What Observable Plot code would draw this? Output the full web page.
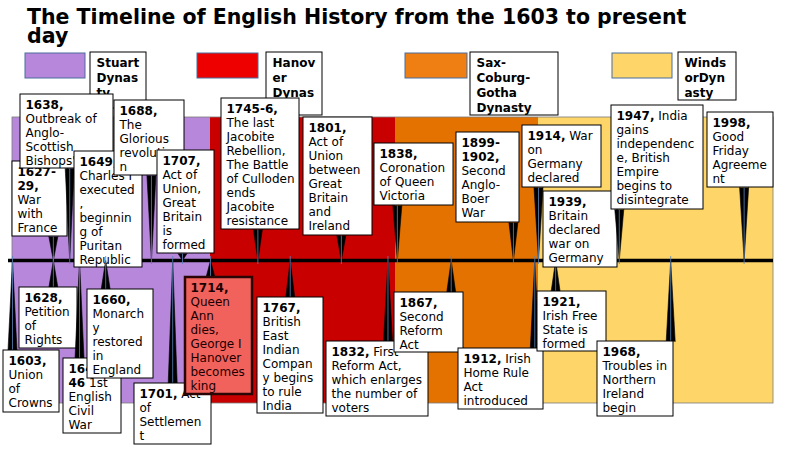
<!DOCTYPE html>
<html><head><meta charset="utf-8">
<script src="https://cdn.jsdelivr.net/npm/d3@7"></script>
<script src="https://cdn.jsdelivr.net/npm/@observablehq/plot@0.6"></script>
<style>
body{margin:0;background:#fff;width:800px;height:449px;overflow:hidden;font-family:"DejaVu Sans",sans-serif;}
#title{position:relative;height:50px;}
#title h1{position:absolute;left:27px;top:8px;margin:0;font-size:20.5px;line-height:19px;font-weight:bold;font-family:"DejaVu Sans";color:#000;white-space:nowrap;}
#chart svg{display:block;}
</style></head><body>
<div id="title"><h1>The Timeline of English History from the 1603 to present<br>day</h1></div>
<div id="chart"></div>
<script>
// ---------------- data ----------------
const dynastyNames = ["Stuart Dynasty", "Hanover Dynasty", "Sax-Coburg-Gotha Dynasty", "WindsorDynasty"];
const dynastyStart = [1603, 1714, 1837, 1914];
const dynastyEnd   = [1714, 1837, 1914, 2010];
const dynastyLegendText = ["Stuart\nDynas\nty", "Hanov\ner\nDynas", "Sax-\nCoburg-\nGotha\nDynasty", "Winds\norDyn\nasty"];

const eventStart = [1603, 1627, 1628, 1638, 1642, 1649, 1660, 1688, 1701, 1707, 1714, 1745, 1767, 1801, 1832, 1838, 1867, 1899, 1912, 1914, 1921, 1939, 1947, 1968, 1998];
const eventEnd   = [1603, 1629, 1628, 1638, 1646, 1649, 1660, 1688, 1701, 1707, 1714, 1746, 1767, 1801, 1832, 1838, 1867, 1902, 1912, 1914, 1921, 1939, 1947, 1968, 1998];
const eventLabels = [
  "**1603,**\nUnion\nof\nCrowns",
  "**1627-\n29,**\nWar\nwith\nFrance",
  "**1628,**\nPetition\nof\nRights",
  "**1638,**\nOutbreak of\nAnglo-\nScottish\nBishops'",
  "**1642-\n46** 1st\nEnglish\nCivil\nWar",
  "**1649,**\nCharles I\nexecuted\n,\nbeginnin\ng of\nPuritan\nRepublic",
  "**1660,**\nMonarch\ny\nrestored\nin\nEngland",
  "**1688,**\nThe\nGlorious\nrevolutio\nn",
  "**1701,** Act\nof\nSettlemen\nt",
  "**1707,**\nAct of\nUnion,\nGreat\nBritain\nis\nformed",
  "**1714,**\nQueen\nAnn\ndies,\nGeorge I\nHanover\nbecomes\nking",
  "**1745-6,**\nThe last\nJacobite\nRebellion,\nThe Battle\nof Culloden\nends\nJacobite\nresistance",
  "**1767,**\nBritish\nEast\nIndian\nCompan\ny begins\nto rule\nIndia",
  "**1801,**\nAct of\nUnion\nbetween\nGreat\nBritain\nand\nIreland",
  "**1832,** First\nReform Act,\nwhich enlarges\nthe number of\nvoters",
  "**1838,**\nCoronation\nof Queen\nVictoria",
  "**1867,**\nSecond\nReform\nAct",
  "**1899-\n1902,**\nSecond\nAnglo-\nBoer\nWar",
  "**1912,** Irish\nHome Rule\nAct\nintroduced",
  "**1914,** War\non\nGermany\ndeclared",
  "**1921,**\nIrish Free\nState is\nformed",
  "**1939,**\nBritain\ndeclared\nwar on\nGermany",
  "**1947,** India\ngains\nindependenc\ne, British\nEmpire\nbegins to\ndisintegrate",
  "**1968,**\nTroubles in\nNorthern\nIreland\nbegin",
  "**1998,**\nGood\nFriday\nAgreeme\nnt"
];
const highlightedEvents = [1714];

// ---------------- styles ----------------
const dynastyColors = ["#b687da", "#c90000", "#e47200", "#fed568"];
const legendColors  = ["#b687da", "#ee0000", "#ef7f12", "#fed568"];
const highlightFill = "#f2625c";

// ---------------- layout (page pixels) ----------------
const SVG_TOP = 50, SVG_H = 399, TL = 260;          // timeline page y
const scaleYears = [1603, 1707, 1714, 1837, 1914, 2010];  // the drawing is not to scale: anchor years
const scalePx    = [12, 182, 210, 395, 538, 773];
const bandHalf = 143;
const eventBoxes = [
  [3,350,59,412],[12,161,67,236],[19,287,77,348],[20,94,113,168],[63,358,121,433],
  [74,151,142,267],[87,289,153,378],[114,100,184,175],[134,383,211,444],[157,150,214,253],
  [185,277,252,394],[221,98,299,229],[257,297,323,413],[303,117,372,235],[326,341,428,416],
  [374,143,453,205],[394,292,463,352],[456,132,519,222],[458,348,543,409],[522,125,601,187],
  [537,291,606,351],[543,191,617,267],[611,105,703,209],[597,341,673,416],[707,112,773,187]
];
const legendSwatches = [[25,53,85,78],[197,53,258,78],[405,53,467,78],[612,53,672,78]];
const legendBoxes = [[90,52,146,108],[266,52,322,115],[470,52,558,115],[678,52,736,100]];

// ---------------- helpers ----------------
const FONT = "DejaVu Sans", FS = 12, LINE = 14, LLINE = 15;
const X = d3.scaleLinear().domain(scaleYears).range(scalePx);
const xv = px => X.invert(px);
const yv = py => TL - py;
const ctx = document.createElement("canvas").getContext("2d");
function tw(s, bold) { ctx.font = `${bold ? "bold " : ""}${FS}px "${FONT}"`; return ctx.measureText(s).width; }
function parse(label) {
  const m = label.match(/^\*\*([\s\S]*?)\*\*([\s\S]*)$/);
  const boldLines = m[1].split("\n");
  const rest = m[2];
  let inline = "", restLines;
  if (rest.startsWith("\n")) restLines = rest.slice(1).split("\n");
  else { const p = rest.split("\n"); inline = p[0].trim(); restLines = p.slice(1); }
  return {boldLines, inline, restLines};
}

const marks = [];

// dynasty bands
const dynasties = dynastyNames.map((name, i) => ({name, start: dynastyStart[i], end: dynastyEnd[i], color: dynastyColors[i], lo: -bandHalf, hi: bandHalf}));
marks.push(Plot.rect(dynasties, {x1: "start", x2: "end", y1: "lo", y2: "hi", fill: "color"}));
marks.push(Plot.rect([{a: dynastyStart[0], b: dynastyEnd[3], lo: -bandHalf, hi: bandHalf}], {x1: "a", x2: "b", y1: "lo", y2: "hi", fill: "none", stroke: "#7a7a7a", strokeWidth: 0.8}));

// legend
const legend = dynastyNames.map((name, i) => {
  const [l, t, r, b] = legendSwatches[i];
  const [L, T, R, B] = legendBoxes[i];
  return {name, color: legendColors[i], sx1: xv(l), sx2: xv(r), sy1: yv(t), sy2: yv(b),
          bx1: xv(L), bx2: xv(R), by1: yv(T), by2: yv(B), tx: xv(L), ty: yv(T + 14.5 - 0.71 * LLINE), text: dynastyLegendText[i]};
});
marks.push(Plot.rect(legend, {x1: "sx1", x2: "sx2", y1: "sy1", y2: "sy2", fill: "color", stroke: "#4a6c9e", strokeWidth: 1}));
marks.push(Plot.rect(legend, {x1: "bx1", x2: "bx2", y1: "by1", y2: "by2", fill: "white", stroke: "black", strokeWidth: 1}));
marks.push(Plot.text(legend, {x: "tx", y: "ty", text: "text", dx: 6, textAnchor: "start", lineAnchor: "top", fontSize: FS, lineHeight: LLINE / FS, fontFamily: FONT, fontWeight: "bold", fill: "black"}));

// timeline
marks.push(Plot.ruleY([{y: 0, a: xv(8), b: dynastyEnd[3]}], {y: "y", x1: "a", x2: "b", stroke: "black", strokeWidth: 3.5}));

// events
eventLabels.forEach((label, i) => {
  const [l, t, r, b] = eventBoxes[i];
  const year = (eventStart[i] + eventEnd[i]) / 2;
  const above = (t + b) / 2 < TL;
  const len = above ? TL - b : t - TL;
  const {boldLines, inline, restLines} = parse(label);
  const hi = highlightedEvents.includes(eventStart[i]);
  const e = {year, base: above ? yv(b) : yv(t), tip: above ? -4 : 4,
             bx1: xv(l), bx2: xv(r), by1: yv(t), by2: yv(b),
             tx: xv(l), ty: yv(t + 14.5 - 0.71 * LINE),
             bold: boldLines.join("\n"), inline, rest: restLines.join("\n")};
  const common = {x: "tx", y: "ty", dx: 5, textAnchor: "start", lineAnchor: "top", fontSize: FS, lineHeight: LINE / FS, fontFamily: FONT, fill: hi ? "#1a0000" : "black"};
  if (len > 0) {
    marks.push(Plot.vector([e], {x: "year", y: "base", length: len, rotate: above ? 180 : 0, shape: "spike", r: 4.5, anchor: "start", fill: "black", stroke: "black", strokeWidth: 0.6}));
    marks.push(Plot.ruleX([e], {x: "year", y1: "base", y2: "tip", stroke: "#5b87bd", strokeWidth: 0.8}));
  }
  marks.push(Plot.rect([e], {x1: "bx1", x2: "bx2", y1: "by1", y2: "by2", fill: hi ? highlightFill : "white", stroke: hi ? "#2a0505" : "black", strokeWidth: hi ? 2.5 : 1}));
  marks.push(Plot.text([e], {...common, text: "bold", fontWeight: "bold"}));
  const nb = boldLines.length;
  if (inline) marks.push(Plot.text([e], {...common, text: "inline", dx: 5 + tw(boldLines[nb - 1], true) + tw(" ", false), dy: (nb - 1) * LINE}));
  if (restLines.length) marks.push(Plot.text([e], {...common, text: "rest", dy: nb * LINE}));
});

const chart = Plot.plot({
  width: 800, height: SVG_H, margin: 0,
  x: {type: "linear", domain: scaleYears, range: scalePx, axis: null},
  y: {type: "linear", domain: [TL - SVG_TOP - SVG_H, TL - SVG_TOP], range: [SVG_H, 0], axis: null},
  style: {background: "transparent", overflow: "visible"},
  marks
});
document.getElementById("chart").appendChild(chart);
</script>
</body></html>
